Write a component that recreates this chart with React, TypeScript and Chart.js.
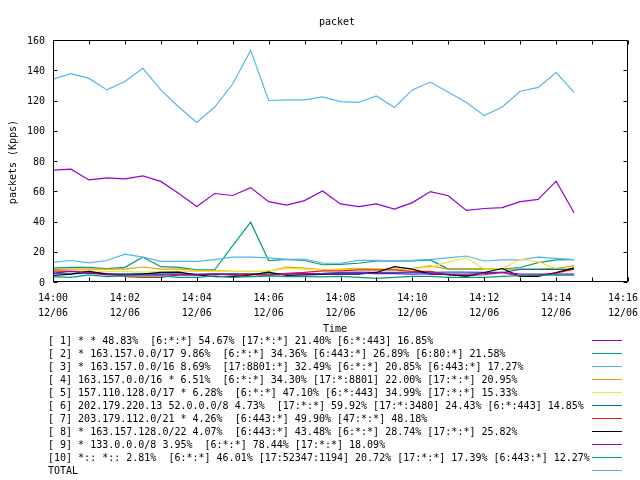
import React, { useEffect, useRef } from "react";
import { Chart, registerables } from "chart.js";

Chart.register(...registerables);

const times = [
  "14:00:00", "14:00:30", "14:01:00", "14:01:30", "14:02:00", "14:02:30",
  "14:03:00", "14:03:30", "14:04:00", "14:04:30", "14:05:00", "14:05:30",
  "14:06:00", "14:06:30", "14:07:00", "14:07:30", "14:08:00", "14:08:30",
  "14:09:00", "14:09:30", "14:10:00", "14:10:30", "14:11:00", "14:11:30",
  "14:12:00", "14:12:30", "14:13:00", "14:13:30", "14:14:00", "14:14:30",
];

const s1 = [74, 74.6, 67.5, 68.8, 68.2, 70.1, 66.5, 58.5, 49.9, 58.5, 57.2, 62.4, 53.1, 50.8, 53.8, 60.2, 51.6, 49.9, 51.6, 48.2, 52.5, 59.8, 57, 47.3, 48.6, 49.2, 53.1, 54.6, 66.7, 45.8];
const s2 = [9.2, 9.7, 9.7, 8.8, 9.7, 16.4, 10.1, 9.7, 8.1, 8.1, 24, 39.5, 14.2, 15, 14.2, 11.4, 11.7, 12.4, 13.9, 13.9, 13.9, 14.6, 8.5, 8.5, 8.5, 8.5, 9.6, 12.8, 14.6, 14.8];
const s3 = [13, 14.2, 12.6, 14.2, 18.4, 16.4, 13.7, 13.7, 13.7, 14.8, 16.4, 16.4, 16, 15, 15.2, 12.5, 12.4, 14.3, 14.3, 13.9, 14.3, 15, 16, 17.2, 13.9, 14.6, 14.6, 16.5, 15.6, 14.8];
const s4 = [8.1, 8.5, 8.5, 8.5, 8.5, 9.9, 8.5, 8.5, 7.6, 7.6, 7, 7, 7, 9.9, 9.2, 8.1, 8.5, 9.1, 8.5, 8.5, 8.9, 10.7, 8.5, 8.5, 8.9, 8.5, 8.5, 8.5, 9.1, 10.7];
const s5 = [7, 7.2, 7.4, 7, 6.8, 6.5, 6.8, 7, 7.2, 7, 6.8, 6.8, 7.2, 9, 8.5, 8, 8, 8.5, 8, 8.5, 8.9, 9.6, 13.3, 16.1, 8.5, 8.9, 15, 13.3, 8.9, 8];
const s6 = [5.6, 5.4, 5.8, 5.4, 5.4, 5.6, 5.4, 5.4, 5.2, 5.4, 5.6, 5.4, 5.4, 5.6, 5.6, 5.8, 6.3, 6.5, 6.3, 6.3, 6.5, 6.3, 6.5, 6.5, 6.3, 6.3, 8.3, 8.3, 8.3, 8.3];
const s7 = [7.4, 7, 6.5, 5.6, 3.6, 3.1, 3.1, 4.7, 4.7, 5.4, 4.7, 5.2, 4.7, 5.8, 6.3, 7.4, 7.4, 8, 8, 8, 7, 7, 4.6, 4.2, 4.8, 6.3, 3.7, 4.6, 5.9, 8.5];
const s8 = [4.3, 5.2, 7, 5.2, 4.7, 5.2, 6.3, 6.5, 4.7, 3.6, 3.6, 4.7, 6.5, 4.3, 4.7, 5, 5.2, 5.2, 6.3, 10.2, 8.5, 5.2, 5, 3.7, 6.3, 8.9, 3.7, 3.7, 6.3, 9.3];
const s9 = [5.8, 7, 5.8, 4.7, 4.7, 4.7, 4.7, 4.7, 4.7, 5.2, 4.7, 3.6, 4.3, 5.2, 5.6, 5.4, 5.6, 5.8, 5.6, 5.6, 5.2, 5.6, 5.2, 5.2, 5.6, 6.3, 5.2, 5.2, 5.2, 5.2];
const s10 = [3.6, 3.1, 4.7, 3.6, 4, 4, 4, 3.1, 3.1, 4, 3.1, 3.6, 4, 3.6, 3.6, 3.4, 3.7, 3, 2.4, 3, 3.7, 3.7, 3, 3, 3, 3.7, 4.2, 4.6, 4.6, 4.6];
const total = [134.1, 137.8, 134.6, 127, 132.6, 141.3, 127, 115.7, 105.5, 115.7, 130.9, 153.3, 120, 120.4, 120.4, 122.4, 119.3, 118.7, 123, 115.4, 127, 132.2, 125.4, 118.9, 110, 115.7, 126.1, 128.7, 138.5, 125.4];

const legendLabels = [
  "[ 1] * * 48.83%  [6:*:*] 54.67% [17:*:*] 21.40% [6:*:443] 16.85%",
  "[ 2] * 163.157.0.0/17 9.86%  [6:*:*] 34.36% [6:443:*] 26.89% [6:80:*] 21.58%",
  "[ 3] * 163.157.0.0/16 8.69%  [17:8801:*] 32.49% [6:*:*] 20.85% [6:443:*] 17.27%",
  "[ 4] 163.157.0.0/16 * 6.51%  [6:*:*] 34.30% [17:*:8801] 22.00% [17:*:*] 20.95%",
  "[ 5] 157.110.128.0/17 * 6.28%  [6:*:*] 47.10% [6:*:443] 34.99% [17:*:*] 15.33%",
  "[ 6] 202.179.220.13 52.0.0.0/8 4.73%  [17:*:*] 59.92% [17:*:3480] 24.43% [6:*:443] 14.85%",
  "[ 7] 203.179.112.0/21 * 4.26%  [6:443:*] 49.90% [47:*:*] 48.18%",
  "[ 8] * 163.157.128.0/22 4.07%  [6:443:*] 43.48% [6:*:*] 28.74% [17:*:*] 25.82%",
  "[ 9] * 133.0.0.0/8 3.95%  [6:*:*] 78.44% [17:*:*] 18.09%",
  "[10] *:: *:: 2.81%  [6:*:*] 46.01% [17:52347:1194] 20.72% [17:*:*] 17.39% [6:443:*] 12.27%",
  "TOTAL",
];

const colors = [
  "#9400d3", "#009e73", "#56b4e9", "#e69f00", "#f0e442",
  "#0072b2", "#e51e10", "#000000", "#9400d3", "#009e73", "#56b4e9",
];

const xTickLabels = ["14:00", "14:02", "14:04", "14:06", "14:08", "14:10", "14:12", "14:14", "14:16"];
const xTickMinutes = [0, 2, 4, 6, 8, 10, 12, 14, 16];
const xMinorMinutes = [0, 1, 2, 3, 4, 5, 6, 7, 8, 9, 10, 11, 12, 13, 14, 15, 16];
const xDateLabel = "12/06";
const yTicks = [0, 20, 40, 60, 80, 100, 120, 140, 160];
const titleText = "packet";
const xTitle = "Time";
const yTitle = "packets (Kpps)";

const FONT = '10px "DejaVu Sans Mono", "Liberation Mono", monospace';

function toMinutes(t: string): number {
  const [h, m, s] = t.split(":").map(Number);
  return h * 60 + m + s / 60 - 14 * 60;
}

const seriesList = [s1, s2, s3, s4, s5, s6, s7, s8, s9, s10, total];

const decorPlugin = {
  id: "gnuplotDecor",
  afterDraw(chart: any) {
    const ctx = chart.ctx as CanvasRenderingContext2D;
    const a = chart.chartArea;
    const xs = chart.scales.x;
    const ys = chart.scales.y;
    ctx.save();
    ctx.strokeStyle = "#000";
    ctx.fillStyle = "#000";
    ctx.lineWidth = 1;
    ctx.font = FONT;
    const L = Math.round(a.left) + 0.5;
    const R = Math.round(a.right) - 0.5;
    const T = Math.round(a.top) + 0.5;
    const B = Math.round(a.bottom) - 0.5;
    ctx.beginPath();
    ctx.rect(L, T, R - L, B - T);
    ctx.stroke();
    const tl = 4;
    ctx.beginPath();
    for (const m of xMinorMinutes) {
      const px = Math.round(xs.getPixelForValue(m)) + 0.5;
      ctx.moveTo(px, B);
      ctx.lineTo(px, B - tl);
      ctx.moveTo(px, T);
      ctx.lineTo(px, T + tl);
    }
    for (const v of yTicks) {
      const py = Math.round(ys.getPixelForValue(v)) + 0.5;
      ctx.moveTo(L, py);
      ctx.lineTo(L + tl, py);
      ctx.moveTo(R, py);
      ctx.lineTo(R - tl, py);
    }
    ctx.stroke();

    const dy = 1;
    ctx.textBaseline = "middle";
    ctx.textAlign = "right";
    for (const v of yTicks) {
      const py = ys.getPixelForValue(v);
      ctx.fillText(String(v), 45, py + dy);
    }
    ctx.textAlign = "center";
    xTickMinutes.forEach((m, i) => {
      let px = xs.getPixelForValue(m);
      const w = ctx.measureText(xTickLabels[i]).width;
      if (px + w / 2 > 638) px = 638 - w / 2;
      ctx.fillText(xTickLabels[i], px, 297 + dy);
      ctx.fillText(xDateLabel, px, 312 + dy);
    });
    ctx.fillText(titleText, 337, 21 + dy);
    ctx.fillText(xTitle, 335, 328 + dy);
    ctx.save();
    ctx.translate(13, 162);
    ctx.rotate(-Math.PI / 2);
    ctx.fillText(yTitle, 0, 0);
    ctx.restore();

    ctx.textAlign = "left";
    legendLabels.forEach((lab, k) => {
      const y = 339.5 + 13 * k;
      ctx.fillStyle = "#000";
      ctx.fillText(lab, 48, y + 1.5);
      ctx.strokeStyle = colors[k];
      ctx.beginPath();
      const ly = Math.round(y) + 0.5;
      ctx.moveTo(592, ly);
      ctx.lineTo(622, ly);
      ctx.stroke();
    });
    ctx.restore();
  },
};

export default function App() {
  const ref = useRef<HTMLCanvasElement | null>(null);
  useEffect(() => {
    if (!ref.current) return;
    const datasets = seriesList.map((arr, i) => ({
      label: legendLabels[i],
      data: arr.map((v, j) => ({ x: toMinutes(times[j]), y: v })),
      borderColor: colors[i],
      backgroundColor: colors[i],
      borderWidth: 1.2,
      pointRadius: 0,
      tension: 0,
      fill: false,
      order: seriesList.length - i,
    }));
    const chart = new Chart(ref.current, {
      type: "line",
      data: { datasets },
      options: {
        animation: false,
        responsive: false,
        devicePixelRatio: 1,
        layout: { padding: { left: 53, right: 12, top: 40, bottom: 198 } },
        scales: {
          x: { type: "linear", min: 0, max: 16, display: false },
          y: { type: "linear", min: 0, max: 160, display: false },
        },
        plugins: {
          legend: { display: false },
          title: { display: false },
          tooltip: { enabled: false },
        },
      },
      plugins: [decorPlugin],
    } as any);
    return () => chart.destroy();
  }, []);
  return (
    <div style={{ position: "absolute", left: 0, top: 0, width: 640, height: 480, background: "#fff" }}>
      <canvas ref={ref} width={640} height={480} style={{ display: "block" }} />
    </div>
  );
}
